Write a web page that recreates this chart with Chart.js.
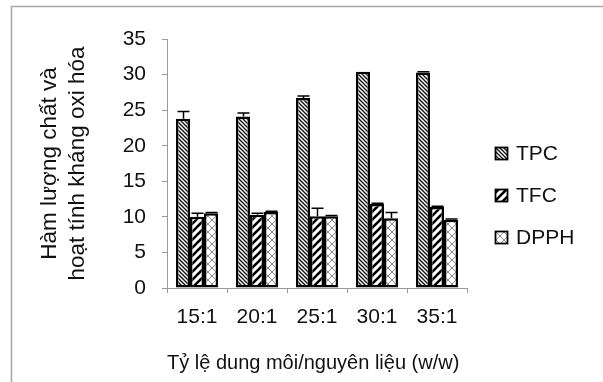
<!DOCTYPE html>
<html>
<head>
<meta charset="utf-8">
<script src="https://cdn.jsdelivr.net/npm/chart.js@4/dist/chart.umd.min.js"></script>
<style>
  html, body { margin: 0; padding: 0; background: #fff; }
  #wrap { width: 603px; height: 382px; position: relative; }
</style>
</head>
<body>
<div id="wrap"><canvas id="c" width="603" height="382"></canvas></div>
<script>
// Solvent-to-material ratios (w/w)
const categories = ['15:1', '20:1', '25:1', '30:1', '35:1'];

// Measured values per ratio
const tpcValues  = [23.8, 24.1, 26.7, 30.4, 30.3];
const tfcValues  = [10.0, 10.3, 10.1, 11.8, 11.4];
const dpphValues = [10.5, 10.7, 10.1, 9.8, 9.6];

// Standard deviations (drawn as upward error bars)
const tpcErrors  = [1.0, 0.5, 0.3, 0.0, 0.1];
const tfcErrors  = [0.5, 0.2, 1.1, 0.1, 0.1];
const dpphErrors = [0.1, 0.1, 0.1, 0.8, 0.1];

const seriesLabels = ['TPC', 'TFC', 'DPPH'];
const yTicks = [0, 5, 10, 15, 20, 25, 30, 35];

const FONT = "'Liberation Sans', Arial, sans-serif";
const TEXT = '#111';

// Hatch fills for the bars
function makePattern(kind) {
  const size = kind === 'dense' ? 4 : 8;
  const cv = document.createElement('canvas');
  cv.width = size; cv.height = size;
  const g = cv.getContext('2d');
  g.fillStyle = '#fff';
  g.fillRect(0, 0, size, size);
  g.lineCap = 'square';
  if (kind === 'dense') {
    g.strokeStyle = '#111';
    g.lineWidth = 1.3;
    for (const o of [-size, 0, size]) {
      g.beginPath(); g.moveTo(o, 0); g.lineTo(o + size, size); g.stroke();
    }
  } else if (kind === 'wide') {
    g.strokeStyle = '#000';
    g.lineWidth = 2.6;
    for (const o of [-size, 0, size]) {
      g.beginPath(); g.moveTo(o, size); g.lineTo(o + size, 0); g.stroke();
    }
  } else {
    g.strokeStyle = '#8a8a8a';
    g.lineWidth = 1;
    for (const o of [-size, 0, size]) {
      g.beginPath(); g.moveTo(o, 0); g.lineTo(o + size, size); g.stroke();
      g.beginPath(); g.moveTo(o, size); g.lineTo(o + size, 0); g.stroke();
    }
  }
  const ctx = document.getElementById('c').getContext('2d');
  return ctx.createPattern(cv, 'repeat');
}

const fills = [makePattern('dense'), makePattern('wide'), makePattern('cross')];
const errorSets = [tpcErrors, tfcErrors, dpphErrors];

// White background and the grey frame line at the top and left
const framePlugin = {
  id: 'frame',
  beforeDraw(chart) {
    const ctx = chart.ctx;
    ctx.save();
    ctx.fillStyle = '#fff';
    ctx.fillRect(0, 0, chart.width, chart.height);
    ctx.strokeStyle = '#a8a8a8';
    ctx.lineWidth = 1.5;
    ctx.beginPath();
    ctx.moveTo(11.5, chart.height);
    ctx.lineTo(11.5, 6.5);
    ctx.lineTo(chart.width, 6.5);
    ctx.stroke();
    ctx.restore();
  }
};

// Error bars placed with the chart's own y scale
const errorBarPlugin = {
  id: 'errorBars',
  afterDatasetsDraw(chart) {
    const ctx = chart.ctx;
    const y = chart.scales.y;
    ctx.save();
    ctx.strokeStyle = '#000';
    ctx.lineWidth = 1.5;
    chart.data.datasets.forEach((ds, di) => {
      const meta = chart.getDatasetMeta(di);
      const errs = errorSets[di];
      meta.data.forEach((bar, i) => {
        if (!errs[i]) return;
        const v = ds.data[i];
        const top = y.getPixelForValue(v + errs[i]);
        const base = y.getPixelForValue(v);
        const x = Math.round(bar.x) + 0.5;
        ctx.beginPath();
        ctx.moveTo(x, base);
        ctx.lineTo(x, top);
        ctx.moveTo(x - 6, top);
        ctx.lineTo(x + 6, top);
        ctx.stroke();
      });
    });
    ctx.restore();
  }
};

// Legend drawn at the right of the plot
const sideLegendPlugin = {
  id: 'sideLegend',
  afterDraw(chart) {
    const ctx = chart.ctx;
    ctx.save();
    ctx.font = '21px ' + FONT;
    ctx.textBaseline = 'alphabetic';
    chart.data.datasets.forEach((ds, i) => {
      const baseY = 160 + 42 * i;
      const bx = 495.5, by = baseY - 12.5;
      ctx.fillStyle = ds.backgroundColor;
      ctx.fillRect(bx, by, 12, 12);
      ctx.strokeStyle = '#000';
      ctx.lineWidth = 1.8;
      ctx.strokeRect(bx, by, 12, 12);
      ctx.fillStyle = TEXT;
      ctx.fillText(ds.label, 516, baseY);
    });
    ctx.restore();
  }
};

const datasets = [tpcValues, tfcValues, dpphValues].map((vals, i) => ({
  label: seriesLabels[i],
  data: vals,
  backgroundColor: fills[i],
  borderColor: '#000',
  borderWidth: 2.5,
  borderSkipped: false,
  categoryPercentage: 0.7,
  barPercentage: 1.0
}));

new Chart(document.getElementById('c'), {
  type: 'bar',
  data: { labels: categories, datasets },
  options: {
    responsive: false,
    animation: false,
    devicePixelRatio: 1,
    layout: { padding: { left: 12, top: 39, right: 136, bottom: 4 } },
    plugins: {
      legend: { display: false },
      tooltip: { enabled: false }
    },
    scales: {
      x: {
        afterFit(scale) { scale.height = 90; },
        grid: {
          offset: true,
          drawOnChartArea: false,
          drawTicks: true,
          tickLength: 5,
          color: '#999'
        },
        border: { display: true, color: '#999', width: 1 },
        ticks: {
          color: TEXT,
          font: { family: FONT, size: 21 },
          padding: 12,
          maxRotation: 0
        },
        title: {
          display: true,
          align: 'start',
          text: 'Tỷ lệ dung môi/nguyên liệu (w/w)',
          color: TEXT,
          font: { family: FONT, size: 20, lineHeight: 1.2 },
          padding: { top: 0, bottom: 3 }
        }
      },
      y: {
        min: 0,
        max: 35,
        afterFit(scale) { scale.width = 155; },
        afterBuildTicks(scale) { scale.ticks = yTicks.map(v => ({ value: v })); },
        grid: {
          drawOnChartArea: false,
          drawTicks: true,
          tickLength: 5,
          color: '#999'
        },
        border: { display: true, color: '#999', width: 1 },
        ticks: {
          color: TEXT,
          font: { family: FONT, size: 21 },
          padding: 16
        },
        title: {
          display: true,
          text: ['Hàm lượng chất và', 'hoạt tính kháng oxi hóa'],
          color: TEXT,
          font: { family: FONT, size: 22.5, lineHeight: 28 / 22.5 },
          padding: { top: 24, bottom: 0 }
        }
      }
    }
  },
  plugins: [framePlugin, errorBarPlugin, sideLegendPlugin]
});
</script>
</body>
</html>
